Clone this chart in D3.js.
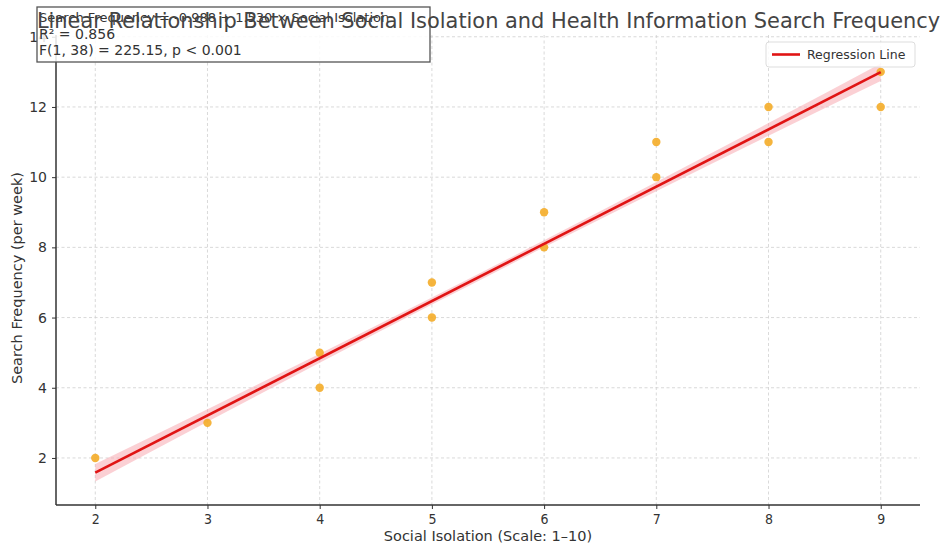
<!DOCTYPE html>
<html>
<head>
<meta charset="utf-8">
<script src="https://cdn.jsdelivr.net/npm/d3@7/dist/d3.min.js"></script>
<style>
  html, body { margin: 0; padding: 0; background: #fff; }
  svg { display: block; font-family: "DejaVu Sans", sans-serif; }
</style>
</head>
<body>
<svg id="chart" width="941" height="546"></svg>
<script>
// ---- data ----
const isolation = [2, 3, 4, 4, 5, 5, 6, 6, 7, 7, 8, 8, 9, 9];
const searchFreq = [2, 3, 4, 5, 6, 7, 8, 9, 10, 11, 11, 12, 12, 13];
const xTicks = [2, 3, 4, 5, 6, 7, 8, 9];
const yTicks = [2, 4, 6, 8, 10, 12, 14];
const lineIntercept = -1.68;
const lineSlope = 1.63;
const bandX = [2, 3, 4, 5, 6, 7, 8, 9];
const bandHalf = [0.25, 0.18, 0.13, 0.1, 0.1, 0.13, 0.18, 0.25];
const titleText = "Linear Relationship Between Social Isolation and Health Information Search Frequency";
const statLines = [
  "Search Frequency = -0.988 + 1.530 \u00d7 Social Isolation",
  "R\u00b2 = 0.856",
  "F(1, 38) = 225.15, p < 0.001"
];
const xLabel = "Social Isolation (Scale: 1\u201310)";
const yLabel = "Search Frequency (per week)";
const legendLabel = "Regression Line";

// ---- layout ----
const svg = d3.select("#chart");
const m = { left: 56, right: 920, top: 35, bottom: 505 };
const x = d3.scaleLinear().domain([1.65, 9.35]).range([m.left, m.right]);
const y = d3.scaleLinear().domain([0.66, 14.05]).range([m.bottom, m.top]);

// grid
const grid = svg.append("g");
grid.selectAll("line.vx").data(xTicks).join("line")
  .attr("x1", d => x(d)).attr("x2", d => x(d))
  .attr("y1", m.top).attr("y2", m.bottom)
  .attr("stroke", "#cfcfcf").attr("stroke-width", 0.8).attr("stroke-dasharray", "3,2.5");
grid.selectAll("line.hy").data(yTicks).join("line")
  .attr("x1", m.left).attr("x2", m.right)
  .attr("y1", d => y(d)).attr("y2", d => y(d))
  .attr("stroke", "#cfcfcf").attr("stroke-width", 0.8).attr("stroke-dasharray", "3,2.5");

// confidence band
const bandData = bandX.map((bx, i) => ({ x: bx, fit: lineIntercept + lineSlope * bx, h: bandHalf[i] }));
svg.append("path")
  .datum(bandData)
  .attr("d", d3.area().x(d => x(d.x)).y0(d => y(d.fit - d.h)).y1(d => y(d.fit + d.h)).curve(d3.curveMonotoneX))
  .attr("fill", "#f7a9b0").attr("opacity", 0.55);

// points
svg.append("g").selectAll("circle").data(isolation.map((v, i) => [v, searchFreq[i]])).join("circle")
  .attr("cx", d => x(d[0])).attr("cy", d => y(d[1])).attr("r", 4.2)
  .attr("fill", "#f4ac28").attr("opacity", 0.9);

// regression line
const xMin = d3.min(isolation), xMax = d3.max(isolation);
svg.append("line")
  .attr("x1", x(xMin)).attr("y1", y(lineIntercept + lineSlope * xMin))
  .attr("x2", x(xMax)).attr("y2", y(lineIntercept + lineSlope * xMax))
  .attr("stroke", "#e01414").attr("stroke-width", 2.6);

// axes
const xAxis = svg.append("g").attr("transform", `translate(0,${m.bottom})`)
  .call(d3.axisBottom(x).tickValues(xTicks).tickSize(4).tickPadding(5).tickFormat(d3.format("d")));
const yAxis = svg.append("g").attr("transform", `translate(${m.left},0)`)
  .call(d3.axisLeft(y).tickValues(yTicks).tickSize(4).tickPadding(5).tickFormat(d3.format("d")));
[xAxis, yAxis].forEach(a => {
  a.select(".domain").attr("stroke", "#333").attr("stroke-width", 1.5);
  a.selectAll(".tick line").attr("stroke", "#333");
  a.selectAll(".tick text").attr("fill", "#333").attr("font-size", 14)
    .attr("font-family", "'DejaVu Sans', sans-serif");
});
xAxis.selectAll(".tick text").attr("font-family", "'DejaVu Sans Condensed', 'DejaVu Sans', sans-serif")
  .attr("font-stretch", "condensed");
xAxis.select(".domain").attr("d", `M${m.left},0H${m.right}`);
yAxis.select(".domain").attr("d", `M0,${m.top}V${m.bottom}`);

// axis labels
svg.append("text").attr("x", (m.left + m.right) / 2).attr("y", 541)
  .attr("text-anchor", "middle").attr("font-size", 14.5).attr("fill", "#333").text(xLabel);
svg.append("text").attr("transform", `translate(22,${(m.top + m.bottom) / 2 + 8}) rotate(-90)`)
  .attr("text-anchor", "middle").attr("font-size", 14.5).attr("fill", "#333").text(yLabel);

// stats box
svg.append("rect").attr("x", 37).attr("y", 7).attr("width", 393).attr("height", 55)
  .attr("fill", "#fff").attr("fill-opacity", 0.85).attr("stroke", "#555").attr("stroke-width", 1.3);
svg.append("g").selectAll("text").data(statLines).join("text")
  .attr("x", 39).attr("y", (d, i) => 22 + i * 16.5)
  .attr("font-size", (d, i) => i === 0 ? 13 : 14).attr("fill", "#333").text(d => d);

// title
svg.append("text").attr("x", 488.5).attr("y", 28).attr("text-anchor", "middle")
  .attr("font-size", 20.9).attr("fill", "#444").text(titleText);

// legend
const lg = svg.append("g").attr("transform", "translate(766,42)");
lg.append("rect").attr("width", 149).attr("height", 25).attr("rx", 3)
  .attr("fill", "#fff").attr("fill-opacity", 0.85).attr("stroke", "#ddd");
lg.append("line").attr("x1", 6).attr("x2", 34).attr("y1", 12.5).attr("y2", 12.5)
  .attr("stroke", "#e01414").attr("stroke-width", 2.6);
lg.append("text").attr("x", 41).attr("y", 17).attr("font-size", 12.5).attr("fill", "#333").text(legendLabel);
</script>
</body>
</html>
